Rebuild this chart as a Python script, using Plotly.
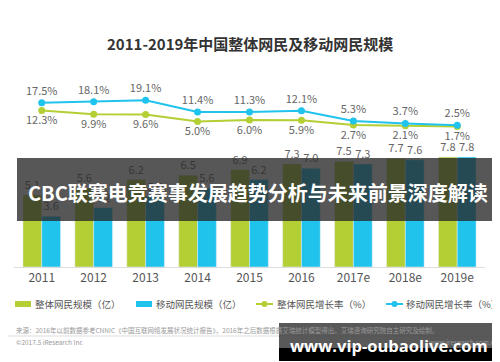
import plotly.graph_objects as go

years = ["2011", "2012", "2013", "2014", "2015", "2016", "2017e", "2018e", "2019e"]
total_users = [5.1, 5.6, 6.2, 6.5, 6.9, 7.3, 7.5, 7.7, 7.8]
mobile_users = [3.6, 4.2, 5.0, 5.6, 6.2, 7.0, 7.3, 7.6, 7.8]
total_growth = [12.3, 9.9, 9.6, 5.0, 6.0, 5.9, 2.7, 2.1, 1.7]
mobile_growth = [17.5, 18.1, 19.1, 11.4, 11.3, 12.1, 5.3, 3.7, 2.5]

names = ["整体网民规模（亿）", "移动网民规模（亿）", "整体网民增长率（%）", "移动网民增长率（%）"]
title_text = "2011-2019年中国整体网民及移动网民规模"
source_text = "来源：2016年以前数据参考CNNIC《中国互联网络发展状况统计报告》，2016年之后数据根据艾瑞统计模型得出。艾瑞咨询研究院自主研究及绘制。"
copyright_text = "©2017.5 iResearch Inc"
site_text = "www.iresearch.com.cn"
banner_text = "CBC联赛电竞赛事发展趋势分析与未来前景深度解读"
watermark_text = "www.vip-oubaolive.com"

GREEN = "#b3cf34"
BLUE = "#20c3ec"
LBL = "#666666"
FONT = "Noto Sans CJK SC, Open Sans, sans-serif"

W, H = 500, 362
def py(px):
    return 1 - px / H
def pxx(px):
    return px / W

fig = go.Figure()
fig.add_trace(go.Bar(x=years, y=total_users, name=names[0], marker_color=GREEN,
                     text=[f"{v:.1f}" for v in total_users], textposition="outside",
                     textfont=dict(size=11, color=LBL), cliponaxis=False))
fig.add_trace(go.Bar(x=years, y=mobile_users, name=names[1], marker_color=BLUE,
                     text=[f"{v:.1f}" for v in mobile_users], textposition="outside",
                     textfont=dict(size=11, color=LBL), cliponaxis=False))
fig.add_trace(go.Scatter(x=years, y=total_growth, name=names[2], yaxis="y2",
                         mode="lines+markers+text", line=dict(color=GREEN, width=2),
                         marker=dict(size=7, color=GREEN),
                         text=[f"{v:.1f}%" for v in total_growth], textposition="bottom center",
                         textfont=dict(size=11, color=LBL), cliponaxis=False))
fig.add_trace(go.Scatter(x=years, y=mobile_growth, name=names[3], yaxis="y2",
                         mode="lines+markers+text", line=dict(color=BLUE, width=2),
                         marker=dict(size=7, color=BLUE),
                         text=[f"{v:.1f}%" for v in mobile_growth], textposition="top center",
                         textfont=dict(size=11, color=LBL), cliponaxis=False))

base_px, top_px = 259, 80
dom = [py(base_px), py(top_px)]
bar_scale = 14.1  # px per unit
line_scale = 1.5   # px per %
line_zero_px = 121
h_px = base_px - top_px
y2_min = -(base_px - line_zero_px) / line_scale
y2_max = y2_min + h_px / line_scale

fig.update_layout(
    width=W, height=H,
    margin=dict(l=0, r=0, t=0, b=0),
    paper_bgcolor="white", plot_bgcolor="white",
    font=dict(family=FONT, color="#555555"),
    barmode="group", bargap=0.276, bargroupgap=0,
    showlegend=False,
    xaxis=dict(domain=[pxx(5.8), pxx(477.2)], showgrid=False, showline=True,
               linecolor="#dddddd", linewidth=1, ticks="", ticklabelstandoff=0,
               tickfont=dict(size=12, color="#555555")),
    yaxis=dict(domain=dom, range=[0, h_px / bar_scale], visible=False),
    yaxis2=dict(domain=dom, range=[y2_min, y2_max], overlaying="y", visible=False),
)

# legend (drawn manually to keep one row as in the reference)
leg_y = 296
leg_items = [  # (kind, color, symbol x0, symbol x1, text x)
    ("bar", GREEN, 7, 23, 25),
    ("bar", BLUE, 128, 144, 146),
    ("line", GREEN, 248, 265, 267),
    ("line", BLUE, 378, 395, 396),
]
for (kind, color, x0, x1, tx), name in zip(leg_items, names):
    if kind == "bar":
        fig.add_shape(type="rect", xref="paper", yref="paper", x0=pxx(x0), x1=pxx(x1),
                      y0=py(leg_y + 3), y1=py(leg_y - 3), fillcolor=color, line=dict(width=0))
    else:
        fig.add_shape(type="line", xref="paper", yref="paper", x0=pxx(x0), x1=pxx(x1),
                      y0=py(leg_y), y1=py(leg_y), line=dict(color=color, width=2))
        cx = (x0 + x1) / 2
        fig.add_shape(type="circle", xref="paper", yref="paper", x0=pxx(cx - 3), x1=pxx(cx + 3),
                      y0=py(leg_y + 3), y1=py(leg_y - 3), fillcolor=color, line=dict(width=0))
    fig.add_annotation(text=name, x=pxx(tx), y=py(leg_y), xref="paper", yref="paper",
                       xanchor="left", yanchor="middle", showarrow=False,
                       font=dict(size=9.5, color="#555555", family=FONT))

fig.add_annotation(text=f"<b>{title_text}</b>", x=pxx(242), y=py(35), xref="paper", yref="paper",
                   xanchor="center", yanchor="middle",
                   showarrow=False, font=dict(size=15, color="#333333", family=FONT))
fig.add_annotation(text=source_text, x=pxx(6), y=py(322), xref="paper", yref="paper",
                   xanchor="left", yanchor="middle",
                   showarrow=False, font=dict(size=6.5, color="#999999", family=FONT))
fig.add_shape(type="line", xref="paper", yref="paper", x0=0, x1=1, y0=py(328), y1=py(328),
              line=dict(color="#dddddd", width=1))
fig.add_annotation(text=copyright_text, x=pxx(6), y=py(334), xref="paper", yref="paper",
                   xanchor="left", yanchor="middle",
                   showarrow=False, font=dict(size=6.5, color="#999999", family=FONT))
fig.add_annotation(text=site_text, x=pxx(492), y=py(334), xref="paper", yref="paper",
                   xanchor="right", yanchor="middle",
                   showarrow=False, font=dict(size=6.5, color="#999999", family=FONT))

# overlay banner
fig.add_shape(type="rect", xref="paper", yref="paper", x0=pxx(9), x1=pxx(492), y0=py(213), y1=py(150),
              fillcolor="rgba(40,40,40,0.78)", line=dict(width=0), layer="above")
fig.add_annotation(text=f"<b>{banner_text}</b>", x=pxx(250), y=py(184), xref="paper", yref="paper",
                   xanchor="center", yanchor="middle",
                   showarrow=False, font=dict(size=20, color="white", family=FONT))

# watermark box
fig.add_shape(type="rect", xref="paper", yref="paper", x0=pxx(271), x1=pxx(491), y0=py(340), y1=py(315),
              fillcolor="rgba(60,60,60,0.85)", line=dict(width=0), layer="above")
fig.add_shape(type="rect", xref="paper", yref="paper", x0=pxx(271), x1=pxx(491), y0=py(353), y1=py(340),
              fillcolor="black", line=dict(width=0), layer="above")
fig.add_annotation(text=f"<b>{watermark_text}</b>", x=pxx(381), y=py(337), xref="paper", yref="paper",
                   xanchor="center", yanchor="middle",
                   showarrow=False, font=dict(size=16.5, color="white", family="Open Sans, sans-serif"))

fig.write_html("out.html")
